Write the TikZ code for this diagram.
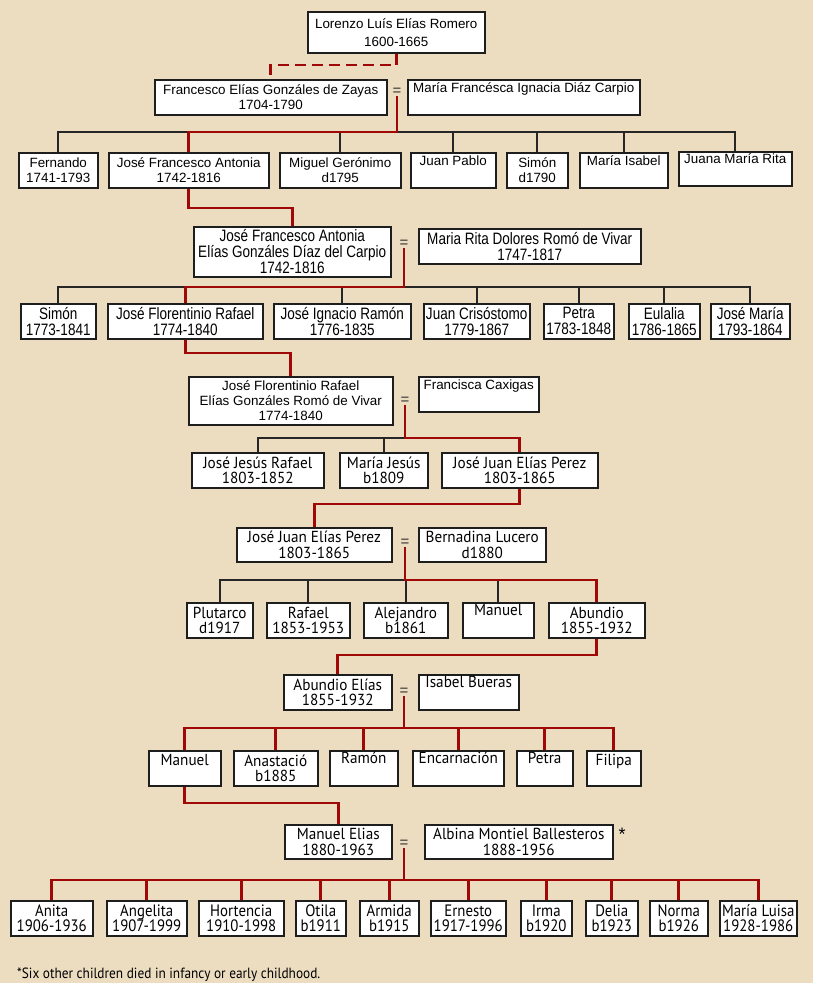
\documentclass[tikz,border=0pt]{standalone}
\usepackage{fontspec}
\usepackage{xcolor}
\usetikzlibrary{calc}
\newfontfamily\arialfont{Liberation Sans}
\newfontfamily\narrowfont[FakeStretch=0.82]{Liberation Sans}
\newfontfamily\myriadfont[FakeStretch=0.95]{PT Sans}
\newfontfamily\condfont[FakeStretch=0.9]{PT Sans}
\definecolor{parchment}{RGB}{236,221,193}
\definecolor{lineRed}{RGB}{160,8,8}
\definecolor{boxInk}{RGB}{30,30,30}
\tikzset{
  person/.style={draw=boxInk,fill=white,line width=1.5pt,anchor=north west,inner sep=0pt,align=center,minimum height=35pt},
  arial/.style={font=\arialfont\fontsize{13.4}{15}\selectfont},
  narrow/.style={font=\narrowfont\fontsize{16.5}{16}\selectfont},
  myriad/.style={font=\myriadfont\fontsize{16}{15.5}\selectfont},
  cond/.style={font=\condfont\fontsize{16.5}{15.5}\selectfont},
  wed/.style={anchor=south,inner sep=0pt,text=black!80,font=\arialfont\fontsize{15}{15}\selectfont},
  kinline/.style={draw=black!85,line width=1.6pt},
  lineage/.style={draw=lineRed,line width=2.9pt},
}

\begin{document}
\begin{tikzpicture}[x=1pt,y=-1pt]
\fill[parchment] (0,0) rectangle (813,983);
\useasboundingbox (0,0) rectangle (813,983);
% levels of the sibling bars and of the heir links
\coordinate (dash0) at (0,65);
\coordinate (kin1) at (0,132);
\coordinate (heir1) at (0,208);
\coordinate (kin2) at (0,287);
\coordinate (heir2) at (0,353);
\coordinate (kin3) at (0,438);
\coordinate (heir3) at (0,504);
\coordinate (kin4) at (0,580);
\coordinate (heir4) at (0,655);
\coordinate (kin5) at (0,728);
\coordinate (heir5) at (0,803);
\coordinate (kin6) at (0,880);

% founder
\node[person,arial,minimum width=177pt,minimum height=41pt] (lorenzo) at (307,11) {Lorenzo Luís Elías Romero\\[3pt]1600-1665};

% generation 1
\node[person,arial,minimum width=232pt] (francesco) at (154,79) {Francesco Elías Gonzáles de Zayas\\1704-1790};
\node[wed] (eq0) at (397,96) {=};
\node[person,arial,minimum width=232pt] (mariafr) at (407,79) {María Francésca Ignacia Diáz Carpio\\\strut};

\node[person,arial,minimum width=79pt] (fernando) at (18,152) {Fernando\\1741-1793};
\node[person,arial,minimum width=160pt] (jfa) at (108,152) {José Francesco Antonia\\1742-1816};
\node[person,arial,minimum width=121pt] (miguel) at (279,152) {Miguel Gerónimo\\d1795};
\node[person,arial,minimum width=85pt] (juanpablo) at (410,152) {Juan Pablo\\\strut};
\node[person,arial,minimum width=61pt] (simon) at (506,152) {Simón\\d1790};
\node[person,arial,minimum width=88pt] (mariaisabel) at (579,152) {María Isabel\\\strut};
\node[person,arial,minimum width=113pt,minimum height=34pt] (juanarita) at (678,151) {Juana María Rita\\\strut};

% generation 2
\node[person,narrow,minimum width=197pt,minimum height=50pt] (jfa2) at (193,226) {José Francesco Antonia\\Elías Gonzáles Díaz del Carpio\\1742-1816};
\node[wed] (eq1) at (404,248) {=};
\node[person,narrow,minimum width=222pt] (mariarita) at (418,228) {Maria Rita Dolores Romó de Vivar\\1747-1817};

\node[person,narrow,minimum width=75pt] (simon2) at (20,303) {Simón\\1773-1841};
\node[person,narrow,minimum width=155pt] (jfr) at (107,303) {José Florentinio Rafael\\1774-1840};
\node[person,narrow,minimum width=137pt] (jir) at (273,303) {José Ignacio Ramón\\1776-1835};
\node[person,narrow,minimum width=106pt] (juancris) at (423,303) {Juan Crisóstomo\\1779-1867};
\node[person,narrow,minimum width=70pt] (petra2) at (543,303) {Petra\\1783-1848};
\node[person,narrow,minimum width=71pt] (eulalia) at (628,303) {Eulalia\\1786-1865};
\node[person,narrow,minimum width=79pt] (josemaria) at (710,303) {José María\\1793-1864};

% generation 3
\node[person,arial,minimum width=204pt,minimum height=48pt] (jfr2) at (188,376) {José Florentinio Rafael\\Elías Gonzáles Romó de Vivar\\1774-1840};
\node[wed] (eq2) at (405,405) {=};
\node[person,arial,minimum width=120pt] (francisca) at (418,376) {Francisca Caxigas\\\strut};

\node[person,myriad,minimum width=132pt] (jjr) at (191,452) {José Jesús Rafael\\1803-1852};
\node[person,myriad,minimum width=88pt] (mariajesus) at (339,452) {María Jesús\\b1809};
\node[person,myriad,minimum width=156pt] (jjep) at (441,452) {José Juan Elías Perez\\1803-1865};

% generation 4
\node[person,myriad,minimum width=155pt,minimum height=34pt] (jjep2) at (236,527) {José Juan Elías Perez\\1803-1865};
\node[wed] (eq3) at (405,547) {=};
\node[person,myriad,minimum width=127pt,minimum height=34pt] (bernadina) at (418,527) {Bernadina Lucero\\d1880};

\node[person,myriad,minimum width=66pt] (plutarco) at (186,602) {Plutarco\\d1917};
\node[person,myriad,minimum width=83pt] (rafael) at (266,602) {Rafael\\1853-1953};
\node[person,myriad,minimum width=84pt] (alejandro) at (363,602) {Alejandro\\b1861};
\node[person,myriad,minimum width=71pt] (manuel4) at (462,602) {Manuel\\\strut};
\node[person,myriad,minimum width=96pt] (abundio) at (548,602) {Abundio\\1855-1932};

% generation 5
\node[person,myriad,minimum width=108pt] (abundio2) at (283,674) {Abundio Elías\\1855-1932};
\node[wed] (eq4) at (404,696) {=};
\node[person,myriad,minimum width=100pt] (isabel) at (418,674) {Isabel Bueras\\\strut};

\node[person,myriad,minimum width=72pt] (manuel5) at (148,750) {Manuel\\[-3pt]\strut};
\node[person,myriad,minimum width=84pt] (anastacio) at (233,750) {Anastació\\b1885};
\node[person,myriad,minimum width=68pt] (ramon) at (329,750) {Ramón\\\strut};
\node[person,myriad,minimum width=91pt] (encarnacion) at (412,750) {Encarnación\\\strut};
\node[person,myriad,minimum width=56pt] (petra5) at (516,750) {Petra\\\strut};
\node[person,myriad,minimum width=54pt] (filipa) at (586,750) {Filipa\\[-3pt]\strut};

% generation 6
\node[person,myriad,minimum width=107pt,minimum height=34pt] (manuelelias) at (284,824) {Manuel Elias\\1880-1963};
\node[wed] (eq5) at (404,848) {=};
\node[person,myriad,minimum width=188pt,minimum height=34pt] (albina) at (424,824) {Albina Montiel Ballesteros\\1888-1956};
\node[inner sep=0pt,font=\arialfont\fontsize{18}{18}\selectfont] (star) at (622,834) {*};

\node[person,cond,minimum width=82pt] (anita) at (10,900) {Anita\\1906-1936};
\node[person,cond,minimum width=80pt] (angelita) at (106,900) {Angelita\\1907-1999};
\node[person,cond,minimum width=85pt] (hortencia) at (198,900) {Hortencia\\1910-1998};
\node[person,cond,minimum width=50pt] (otila) at (295,900) {Otila\\b1911};
\node[person,cond,minimum width=59pt] (armida) at (359,900) {Armida\\b1915};
\node[person,cond,minimum width=75pt] (ernesto) at (430,900) {Ernesto\\1917-1996};
\node[person,cond,minimum width=51pt] (irma) at (520,900) {Irma\\b1920};
\node[person,cond,minimum width=52pt] (delia) at (585,900) {Delia\\b1923};
\node[person,cond,minimum width=58pt] (norma) at (649,900) {Norma\\b1926};
\node[person,cond,minimum width=77pt] (marialuisa) at (719,900) {María Luisa\\1928-1986};

\node[anchor=west,inner sep=0pt,font=\condfont\fontsize{14.8}{16}\selectfont] (note) at (17,975) {*Six other children died in infancy or early childhood.};

% sibling bars
\draw[kinline] (fernando.north) |- (juanarita.north |- kin1) -- (juanarita.north);
\draw[kinline] (miguel.north) -- (miguel.north |- kin1) (juanpablo.north) -- (juanpablo.north |- kin1)
  (simon.north) -- (simon.north |- kin1) (mariaisabel.north) -- (mariaisabel.north |- kin1);
\draw[kinline] (simon2.north) |- (josemaria.north |- kin2) -- (josemaria.north);
\draw[kinline] (jir.north) -- (jir.north |- kin2) (juancris.north) -- (juancris.north |- kin2)
  (petra2.north) -- (petra2.north |- kin2) (eulalia.north) -- (eulalia.north |- kin2);
\draw[kinline] (jjr.north) |- (eq2.south |- kin3);
\draw[kinline] (mariajesus.north) -- (mariajesus.north |- kin3);
\draw[kinline] (plutarco.north) |- (eq3.south |- kin4);
\draw[kinline] (rafael.north) -- (rafael.north |- kin4) (alejandro.north) -- (alejandro.north |- kin4)
  (manuel4.north) -- (manuel4.north |- kin4);

% line of descent
\draw[lineage,dash pattern=on 11pt off 6pt] (lorenzo.south) -- (lorenzo.south |- dash0) -| (francesco.north);
\draw[lineage] (eq0.south) -- (eq0.south |- kin1) -| (jfa.north);
\draw[lineage] (jfa.south) -- (jfa.south |- heir1) -| (jfa2.north);
\draw[lineage] (eq1.south) -- (eq1.south |- kin2) -| (jfr.north);
\draw[lineage] (jfr.south) -- (jfr.south |- heir2) -| (jfr2.north);
\draw[lineage] (eq2.south) -- (eq2.south |- kin3) -| (jjep.north);
\draw[lineage] (jjep.south) -- (jjep.south |- heir3) -| (jjep2.north);
\draw[lineage] (eq3.south) -- (eq3.south |- kin4) -| (abundio.north);
\draw[lineage] (abundio.south) -- (abundio.south |- heir4) -| (abundio2.north);
\draw[lineage] (eq4.south) -- (eq4.south |- kin5);
\draw[lineage] (manuel5.north) |- (filipa.north |- kin5) -- (filipa.north);
\draw[lineage] (anastacio.north) -- (anastacio.north |- kin5) (ramon.north) -- (ramon.north |- kin5)
  (encarnacion.north) -- (encarnacion.north |- kin5) (petra5.north) -- (petra5.north |- kin5);
\draw[lineage] (manuel5.south) -- (manuel5.south |- heir5) -| (manuelelias.north);
\draw[lineage] (eq5.south) -- (eq5.south |- kin6);
\draw[lineage] (anita.north) |- (marialuisa.north |- kin6) -- (marialuisa.north);
\draw[lineage] (angelita.north) -- (angelita.north |- kin6) (hortencia.north) -- (hortencia.north |- kin6)
  (otila.north) -- (otila.north |- kin6) (armida.north) -- (armida.north |- kin6)
  (ernesto.north) -- (ernesto.north |- kin6) (irma.north) -- (irma.north |- kin6)
  (delia.north) -- (delia.north |- kin6) (norma.north) -- (norma.north |- kin6);
\end{tikzpicture}
\end{document}
